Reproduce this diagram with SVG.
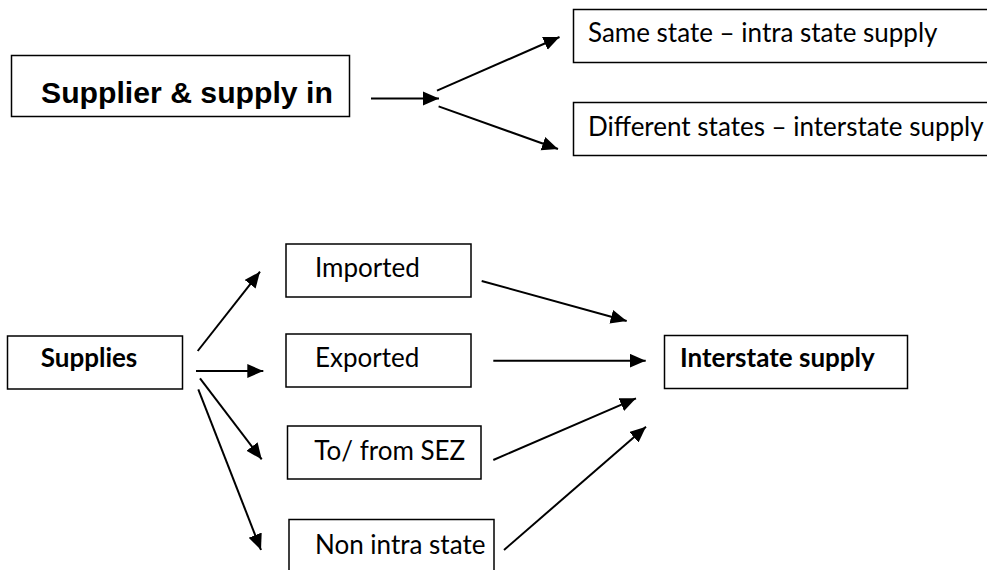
<svg xmlns="http://www.w3.org/2000/svg" width="987" height="570" viewBox="0 0 987 570">
<style>
.box{fill:#fff;stroke:#000;stroke-width:1.5}
.t{font-family:Lato,"Open Sans",sans-serif;font-size:26px;fill:#000}
.b{font-weight:bold}
.h{font-family:"Liberation Sans",Arial,sans-serif;font-size:30.2px;font-weight:bold;fill:#000}
.c{stroke:#000;stroke-width:2;fill:none;marker-end:url(#ah)}
</style>
<defs>
<marker id="ah" markerUnits="userSpaceOnUse" markerWidth="17" markerHeight="15" refX="16" refY="7" orient="auto">
<path d="M0,0 L16,7 L0,14 z" fill="#000"/>
</marker>
</defs>
<rect width="987" height="570" fill="#fff"/>
<g id="supplier">
<rect class="box" x="11.5" y="55.5" width="338" height="61"/>
<text class="h" x="41" y="102.5">Supplier &amp; supply in</text>
</g>
<g id="same-state">
<rect class="box" x="573.5" y="9.5" width="420" height="53"/>
<text class="t" x="588" y="42">Same state – intra state supply</text>
</g>
<g id="different-states">
<rect class="box" x="573.5" y="102.5" width="420" height="53"/>
<text class="t" x="588" y="135.5">Different states – interstate supply</text>
</g>
<g id="supplies">
<rect class="box" x="7.5" y="336" width="175" height="53"/>
<text class="t b" x="40.7" y="367">Supplies</text>
</g>
<g id="imported">
<rect class="box" x="286" y="244" width="185" height="53"/>
<text class="t" x="315" y="276.5">Imported</text>
</g>
<g id="exported">
<rect class="box" x="286" y="334" width="185" height="53"/>
<text class="t" x="315" y="367">Exported</text>
</g>
<g id="sez">
<rect class="box" x="287.5" y="426" width="193.5" height="53"/>
<text class="t" x="314.3" y="459.5">To/ from SEZ</text>
</g>
<g id="non-intra">
<rect class="box" x="289" y="519.5" width="205" height="60"/>
<text class="t" x="315" y="554">Non intra state</text>
</g>
<g id="interstate">
<rect class="box" x="664.5" y="335.5" width="243" height="53"/>
<text class="t b" x="680" y="367">Interstate supply</text>
</g>
<g id="connectors">
<line class="c" x1="371" y1="98.4" x2="439" y2="98.4"/>
<line class="c" x1="437" y1="90.7" x2="559.5" y2="37"/>
<line class="c" x1="438.6" y1="106.4" x2="558" y2="149"/>
<line class="c" x1="197.7" y1="351" x2="260" y2="271.7"/>
<line class="c" x1="196" y1="371" x2="263.3" y2="371"/>
<line class="c" x1="200" y1="378.3" x2="261.7" y2="459.3"/>
<line class="c" x1="198.3" y1="389.3" x2="261" y2="550"/>
<line class="c" x1="481.7" y1="281" x2="626.7" y2="321"/>
<line class="c" x1="493.3" y1="360.7" x2="645.7" y2="360.7"/>
<line class="c" x1="493.3" y1="460" x2="636" y2="398.3"/>
<line class="c" x1="504" y1="550" x2="646" y2="426.7"/>
</g>
</svg>
